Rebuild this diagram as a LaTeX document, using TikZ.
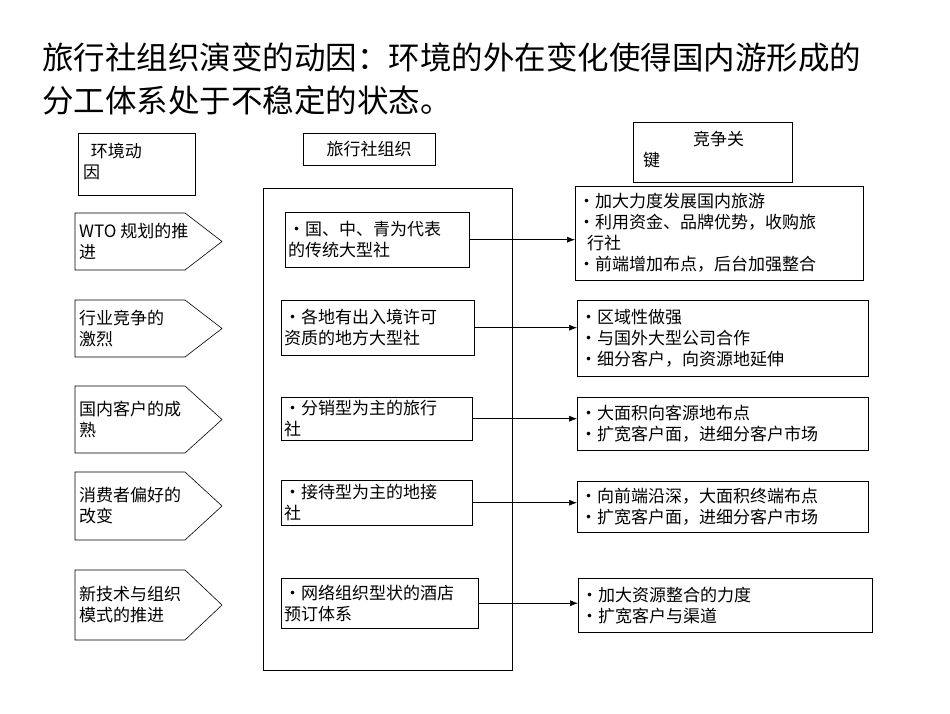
\documentclass[tikz,border=0pt]{standalone}
\usepackage{fontspec}
\setmainfont{Noto Sans CJK SC}
\usetikzlibrary{arrows.meta,positioning}

\tikzset{
  txt/.style={font=\fontsize{17}{21}\selectfont, inner sep=3pt, align=left},
  head/.style={draw, txt},
  orgbox/.style={draw, txt, anchor=north west},
  keybox/.style={draw, txt, anchor=north west},
  link/.style={-{Latex[length=8pt,width=6pt]}, line width=0.6pt},
}
% pentagon arrow on the left: top y, height, text
\newcommand{\Factor}[4]{%
  \draw[line width=0.6pt] (75,#2) -- (185,#2) -- (222,#2+#3/2) -- (185,#2+#3) -- (75,#2+#3) -- cycle;
  \node[txt, anchor=west] (#1) at (76,#2+#3/2) {#4};
}

\begin{document}
\begin{tikzpicture}[x=1pt,y=-1pt]
\useasboundingbox (0,0) rectangle (950,713);

% title
\node[anchor=west, font=\fontsize{31.5}{43}\selectfont, inner sep=0, align=left] (title) at (42,79)
  {旅行社组织演变的动因：环境的外在变化使得国内游形成的\\分工体系处于不稳定的状态。};

% column heads
\draw[line width=0.6pt] (78,133) rectangle (195,195);
\node[txt, anchor=north west] (envhead) at (80,140) {\ \ 环境动\\因};
\draw[line width=0.6pt] (303,133) rectangle (435,165);
\node[txt] (orghead) at (369,149) {旅行社组织};
\draw[line width=0.6pt] (633,122) rectangle (792,182);
\node[txt, anchor=north west] (keyhead) at (640,128) {\hspace{50pt}竞争关\\键};

% environment factors
\Factor{f1}{213}{57}{WTO 规划的推\\进}
\Factor{f2}{300}{57}{行业竞争的\\激烈}
\Factor{f3}{386}{67}{国内客户的成\\熟}
\Factor{f4}{472}{68}{消费者偏好的\\改变}
\Factor{f5}{570}{70}{新技术与组织\\模式的推进}

% organisations
\draw[line width=0.6pt] (263,188) rectangle (512,670);
\node[orgbox, minimum height=55pt, text width=178pt] (o1) at (285,212) {•国、中、青为代表\\的传统大型社};
\node[orgbox, minimum height=55pt, text width=187pt] (o2) at (281,300) {•各地有出入境许可\\资质的地方大型社};
\node[orgbox, minimum height=43pt, text width=185pt] (o3) at (281,397) {•分销型为主的旅行\\社};
\node[orgbox, minimum height=45pt, text width=185pt] (o4) at (281,480) {•接待型为主的地接\\社};
\node[orgbox, minimum height=50pt, text width=191pt] (o5) at (281,578) {•网络组织型状的酒店\\预订体系};

% competition keys
\node[keybox, minimum height=94pt, text width=282pt] (k1) at (575,186)
  {•加大力度发展国内旅游\\•利用资金、品牌优势，收购旅\\\hspace{9pt}行社\\•前端增加布点，后台加强整合};
\node[keybox, minimum height=76pt, text width=285pt] (k2) at (577,300)
  {•区域性做强\\•与国外大型公司合作\\•细分客户，向资源地延伸};
\node[keybox, minimum height=53pt, text width=285pt] (k3) at (577,397)
  {•大面积向客源地布点\\•扩宽客户面，进细分客户市场};
\node[keybox, minimum height=51pt, text width=285pt] (k4) at (577,481)
  {•向前端沿深，大面积终端布点\\•扩宽客户面，进细分客户市场};
\node[keybox, minimum height=54pt, text width=288pt] (k5) at (578,578)
  {•加大资源整合的力度\\•扩宽客户与渠道};

% links
\foreach \i in {1,...,5}
  \draw[link] (o\i.east) -- (k\i.west |- o\i.east);
\end{tikzpicture}
\end{document}
